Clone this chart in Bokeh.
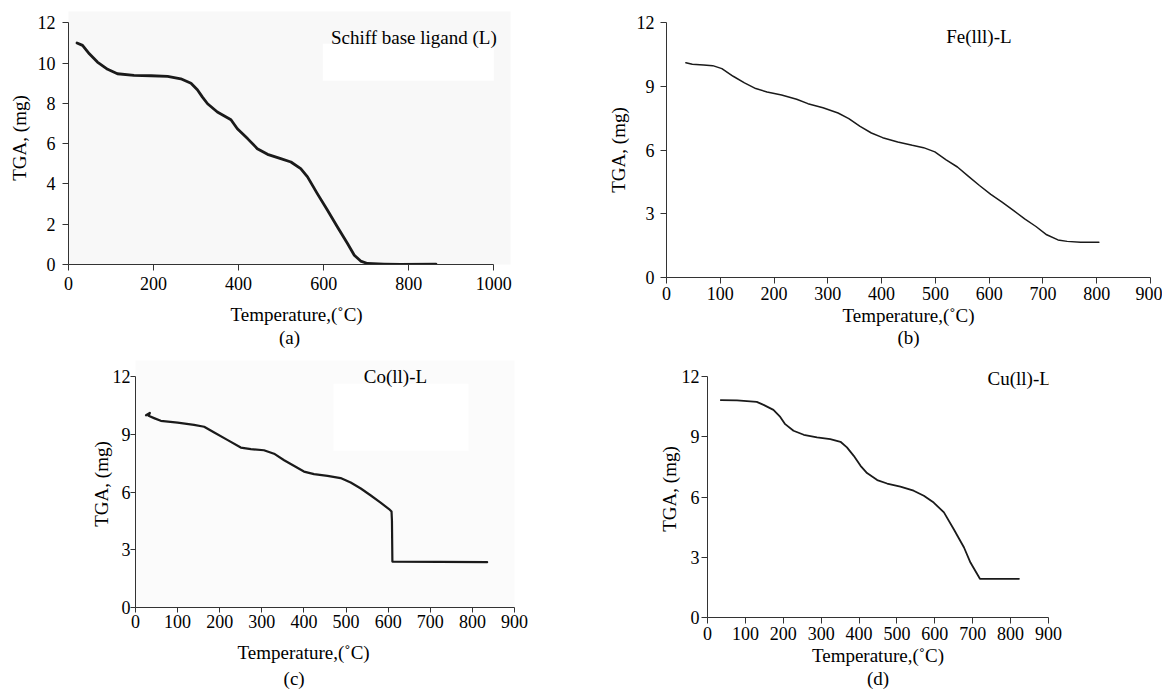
from bokeh.plotting import figure
from bokeh.models import Range1d, FixedTicker, Label, BoxAnnotation, LinearAxis
from bokeh.layouts import column, row
from bokeh.embed import file_html
from bokeh.resources import INLINE

FONT = "Liberation Serif"

# ---- data ----
temp_a = [20, 33, 49, 68, 92, 115, 154, 194, 233, 264, 288, 303, 315, 327, 350, 382,
          397, 421, 444, 468, 499, 523, 546, 562, 585, 609, 632, 656, 672, 687, 703,
          742, 781, 864]
tga_a = [11.0, 10.88, 10.46, 10.05, 9.69, 9.47, 9.39, 9.37, 9.34, 9.22, 9.0, 8.68,
         8.31, 7.98, 7.57, 7.19, 6.74, 6.25, 5.75, 5.47, 5.26, 5.09, 4.76, 4.35, 3.52,
         2.69, 1.87, 1.04, 0.46, 0.17, 0.05, 0.02, 0.0, 0.02]

temp_b = [36, 48, 69, 86, 103, 124, 145, 166, 187, 214, 242, 263, 291, 319, 339, 360,
          381, 402, 430, 457, 478, 499, 520, 541, 561, 582, 603, 624, 645, 666, 687,
          707, 728, 745, 770, 804]
tga_b = [10.11, 10.04, 10.0, 9.97, 9.83, 9.47, 9.16, 8.89, 8.73, 8.59, 8.39, 8.18,
         7.99, 7.74, 7.48, 7.11, 6.8, 6.58, 6.38, 6.22, 6.11, 5.91, 5.54, 5.2, 4.77,
         4.33, 3.91, 3.55, 3.16, 2.76, 2.4, 2.01, 1.77, 1.7, 1.66, 1.66]

temp_c = [25, 34, 31, 44, 60, 100, 139, 163, 187, 218, 250, 274, 305, 329, 353, 376,
          400, 424, 456, 487, 511, 535, 558, 582, 602, 608, 609, 610, 835]
tga_c = [10.0, 10.12, 9.97, 9.85, 9.71, 9.62, 9.5, 9.4, 9.1, 8.72, 8.32, 8.24, 8.18,
         8.0, 7.66, 7.37, 7.07, 6.94, 6.85, 6.73, 6.5, 6.19, 5.84, 5.46, 5.12, 4.99,
         4.5, 2.39, 2.36]

temp_d = [35, 78, 130, 148, 174, 192, 205, 227, 254, 289, 324, 351, 368, 386, 404,
          421, 448, 474, 509, 544, 571, 597, 624, 650, 677, 694, 719, 822]
tga_d = [10.84, 10.82, 10.75, 10.6, 10.35, 10.0, 9.64, 9.31, 9.11, 8.98, 8.89, 8.76,
         8.48, 8.06, 7.56, 7.2, 6.85, 6.68, 6.53, 6.32, 6.07, 5.73, 5.24, 4.4, 3.49,
         2.74, 1.93, 1.93]

x_ticks_a = [0, 200, 400, 600, 800, 1000]
y_ticks_a = [0, 2, 4, 6, 8, 10, 12]
x_ticks_bcd = [0, 100, 200, 300, 400, 500, 600, 700, 800, 900]
y_ticks_bcd = [0, 3, 6, 9, 12]

names = ["Schiff base ligand (L)", "Fe(lll)-L", "Co(ll)-L", "Cu(ll)-L"]
captions = ["(a)", "(b)", "(c)", "(d)"]
x_label = "Temperature,(˚C)"
y_label = "TGA, (mg)"

NB = "\u00a0"
AXIS_COLOR = "#333333"
TICK_SIZE = "18px"
LABEL_SIZE = "19px"


def style_text(ax):
    ax.axis_label_text_font = FONT
    ax.axis_label_text_font_size = LABEL_SIZE
    ax.axis_label_text_font_style = "normal"
    ax.axis_label_text_color = "black"


def panel(w, h, mbl, mbr, mbt, mbb, xmax, axis_w, axis_h, xt, yt, xs, ys, lw,
          name, lx, ly, xlab, caption, bg, box, tick_out, xls, yls, xas, yas, cas):
    frame_w = w - mbl - mbr
    frame_h = h - mbt - mbb
    x_end = max(xmax, xmax * frame_w / axis_w)
    y_end = max(12, 12 * frame_h / axis_h)
    p = figure(width=w, height=h, output_backend="svg", toolbar_location=None,
               x_range=Range1d(0, x_end), y_range=Range1d(0, y_end),
               min_border_left=mbl, min_border_right=mbr,
               min_border_top=mbt, min_border_bottom=mbb,
               background_fill_color=bg, border_fill_color="white")
    if "frame_align" in p.properties():
        p.frame_align = False
    p.outline_line_color = None
    p.grid.visible = False
    xa = p.xaxis[0]
    ya = p.yaxis[0]
    for ax, ticks, bounds in ((xa, xt, (0, xmax)), (ya, yt, (0, 12))):
        ax.ticker = FixedTicker(ticks=ticks, minor_ticks=[])
        ax.bounds = bounds
        ax.major_tick_in = 0
        ax.major_tick_out = tick_out
        ax.minor_tick_line_color = None
        ax.axis_line_color = AXIS_COLOR
        ax.major_tick_line_color = AXIS_COLOR
        ax.major_label_text_font = FONT
        ax.major_label_text_font_size = TICK_SIZE
        ax.major_label_text_color = "black"
        style_text(ax)
    xa.axis_label = xlab
    ya.axis_label = y_label
    xa.major_label_standoff = xls
    ya.major_label_standoff = yls
    xa.axis_label_standoff = xas
    ya.axis_label_standoff = yas

    cap = LinearAxis(axis_label=caption, ticker=FixedTicker(ticks=[], minor_ticks=[]),
                     major_tick_out=0, major_tick_in=0, minor_tick_out=0, minor_tick_in=0,
                     axis_line_color=None, major_tick_line_color=None,
                     minor_tick_line_color=None, major_label_text_font_size="0px",
                     axis_label_standoff=cas)
    style_text(cap)
    p.add_layout(cap, "below")

    if box is not None:
        p.add_layout(BoxAnnotation(left=box[0], right=box[1], bottom=box[2], top=box[3],
                                   fill_color="white", fill_alpha=1.0, line_color=None,
                                   level="underlay"))
    p.line(xs, ys, line_width=lw, line_color="#1a1a1a", line_join="round", line_cap="round")
    p.add_layout(Label(x=lx, y=ly, text=name, text_font=FONT, text_font_size=LABEL_SIZE,
                       text_baseline="middle", text_align="left", text_color="black"))
    return p


pa = panel(570, 350, 68, 60, 11, 86, 1000, 425.3, 241.7, x_ticks_a, y_ticks_a,
           temp_a, tga_a, 2.8, names[0], 617, 11.25, NB * 3 + x_label, captions[0],
           "#f8f8f8", (598, 1000, 9.12, 10.96), 6, 6, 7, 11, 5, -1)
pb = panel(592, 350, 96, 12, 22, 73, 900, 484.0, 255.0, x_ticks_bcd, y_ticks_bcd,
           temp_b, tga_b, 1.5, names[1], 520, 11.36, x_label, captions[1], "white", None,
           6, 3, 6, 2, 5, -2)
pc = panel(580, 341, 135, 66, 10, 84, 900, 379.0, 230.7, x_ticks_bcd, y_ticks_bcd,
           temp_c, tga_c, 2.2, names[2], 542, 12.0, x_label + NB * 9,
           captions[2] + NB * 13, "#fbfbfb", (470, 791, 8.15, 11.64), 5, 2, 0, 11, -2, 2)
pd = panel(582, 341, 127, 114, 10, 74, 900, 341.0, 240.7, x_ticks_bcd, y_ticks_bcd,
           temp_d, tga_d, 1.8, names[3], 739, 11.9, x_label, captions[3], "white", None,
           6, 3, 2, 2, -1, -1)

layout = column(row(pa, pb, spacing=0), row(pc, pd, spacing=0), spacing=0)

open("out.html", "w").write(file_html(layout, INLINE))
